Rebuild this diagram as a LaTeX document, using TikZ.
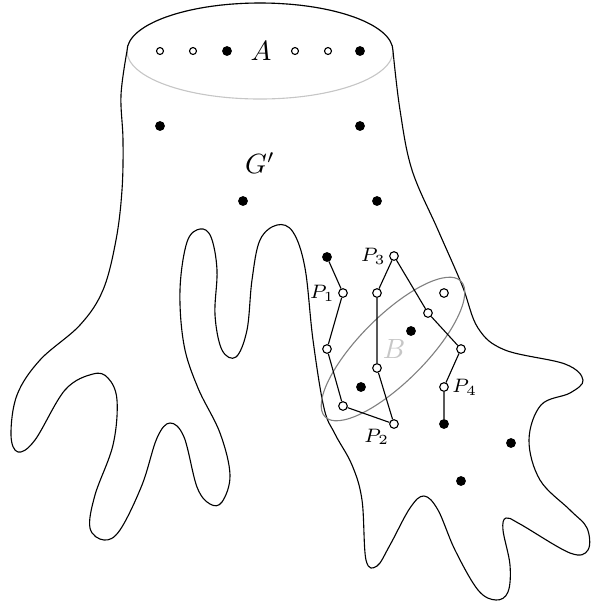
\documentclass[tikz,border=0pt]{standalone}
\usepackage{amsmath}

\begin{document}
\begin{tikzpicture}[
    x=0.36pt, y=-0.36pt,
    vtx/.style   = {circle, draw, fill, inner sep=0pt, minimum size=3.1pt},
    ovtx/.style  = {circle, draw, fill=white, inner sep=0pt, minimum size=3.1pt},
    lbl/.style   = {font=\scriptsize, inner sep=1pt},
    outline/.style = {line join=round}
]
\useasboundingbox (0,0) rectangle (591,605);

% The set A on top of G'
\draw[gray!45] (260,51) ellipse [x radius=133, y radius=48];
\draw[outline] (127,51) arc [start angle=180, end angle=360, x radius=133, y radius=48]
  -- plot[smooth, tension=0.6] coordinates {
    (393,51) (400,110) (412,170) (438,230) (462,285) (478,328) (505,350)
    (565,364) (583,380) (570,393) (541,405) (529,440) (540,480) (570,510)
    (587,528) (588,550) (570,553) (520,524) (506,518) (503,530) (510,565)
    (508,592) (496,600) (478,590) (455,550) (438,510) (424,496) (410,508)
    (390,545) (377,566) (366,560) (362,500) (352,465) (335,434) (324,408)
    (313,340) (305,268) (293,232) (277,225) (260,240) (252,280) (247,330)
    (236,357) (222,350) (215,315) (217,270) (211,237) (200,229) (187,242)
    (180,290) (184,345) (198,388) (220,433) (230,475) (222,502) (210,504)
    (197,487) (184,437) (170,423) (157,438) (142,485) (120,530) (104,540)
    (90,528) (95,495) (113,445) (117,400) (108,378) (93,374) (65,390)
    (35,440) (18,452) (11,435) (17,395) (40,360) (80,325) (103,290)
    (116,240) (122,190) (123,140) (121,95) (127,51)};

\foreach \i/\x in {1/160, 2/193, 4/295, 5/328}
    \node[ovtx, minimum size=2.5pt] (a\i) at (\x,51) {};
\foreach \i/\x in {3/227, 6/360}
    \node[vtx] (a\i) at (\x,51) {};
\node (A)  at (261,51)  {$A$};
\node (Gp) at (260,163) {$G'$};

% The set B
\draw[gray, rotate around={45:(393,349)}] (393,349) ellipse [x radius=96, y radius=33];
\node[gray!45] (B) at (394,349) {$B$};

% other vertices of G'
\foreach \n/\x/\y in {f1/160/126, f2/360/126, f3/243/201, f4/377/201,
                      f5/411/331, f6/361/387, f7/511/443, f8/461/481}
    \node[vtx] (\n) at (\x,\y) {};
\node[ovtx] (u1) at (444,293) {};

% paths P_1,...,P_4
\node[vtx]  (p0)  at (327,257) {};
\node[ovtx, label={[lbl]left:$P_1$}] (p1) at (343,293) {};
\node[ovtx] (p2)  at (327,349) {};
\node[ovtx] (p3)  at (343,406) {};
\node[ovtx, label={[lbl, label distance=-1pt]below left:$P_2$}] (p4) at (394,424) {};
\node[ovtx] (p5)  at (377,368) {};
\node[ovtx] (p6)  at (377,293) {};
\node[ovtx, label={[lbl]left:$P_3$}] (p7) at (394,256) {};
\node[ovtx] (p8)  at (428,313) {};
\node[ovtx] (p9)  at (461,349) {};
\node[ovtx, label={[lbl]right:$P_4$}] (p10) at (444,387) {};
\node[vtx]  (p11) at (444,424) {};

\draw (p0) -- (p1) -- (p2) -- (p3) -- (p4) -- (p5) -- (p6) -- (p7)
      -- (p8) -- (p9) -- (p10) -- (p11);

\end{tikzpicture}
\end{document}
